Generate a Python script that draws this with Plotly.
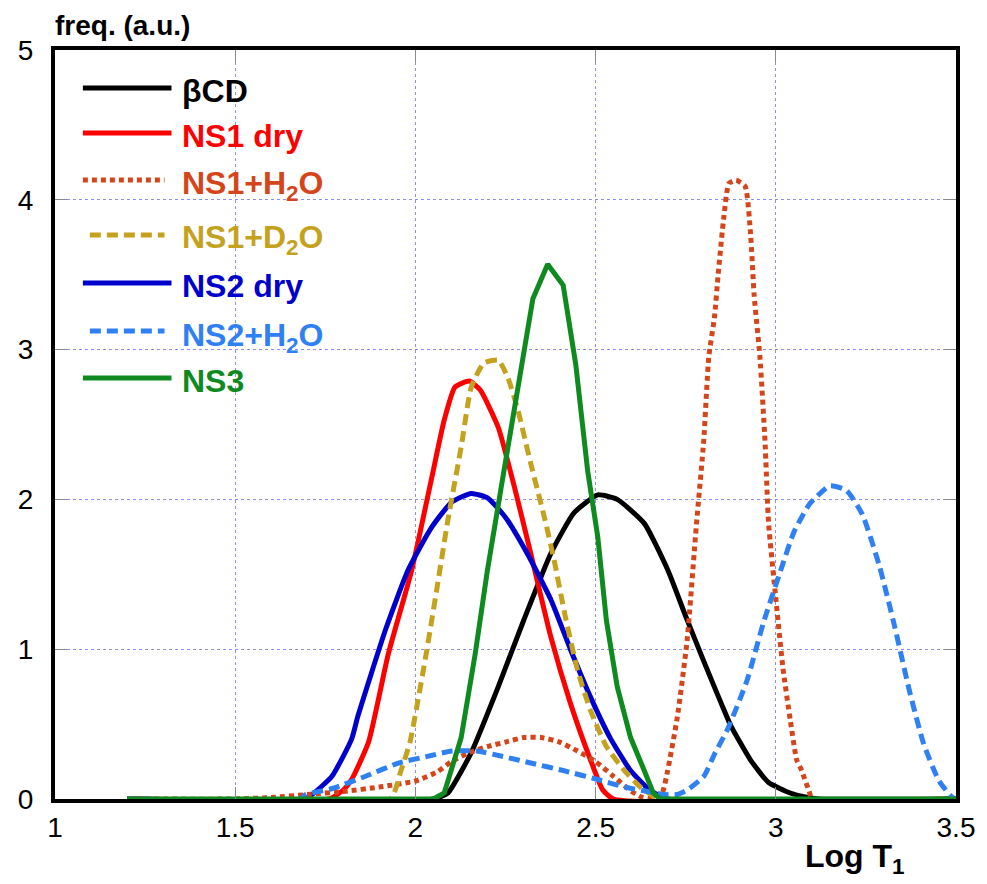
import plotly.graph_objects as go

# ---------------- data ----------------
bcd_x = [1.2, 2.05, 2.09, 2.155, 2.23, 2.30, 2.376, 2.44, 2.506, 2.56, 2.635, 2.70, 2.75, 2.80, 2.85, 2.875, 2.93, 2.98, 3.04, 3.09, 3.12, 3.5]
bcd_y = [0, 0, 0.04, 0.31, 0.75, 1.19, 1.64, 1.91, 2.03, 2.00, 1.84, 1.53, 1.22, 0.92, 0.63, 0.49, 0.26, 0.11, 0.04, 0.01, 0, 0]

ns1dry_x = [1.2, 1.76, 1.80, 1.823, 1.87, 1.925, 1.99, 2.044, 2.08, 2.11, 2.15, 2.18, 2.23, 2.275, 2.32, 2.376, 2.43, 2.486, 2.52, 2.55, 3.5]
ns1dry_y = [0, 0, 0.06, 0.13, 0.38, 0.97, 1.53, 2.13, 2.53, 2.75, 2.79, 2.73, 2.48, 2.08, 1.64, 1.08, 0.64, 0.26, 0.06, 0, 0]

ns1h2o_x = [1.2, 1.5, 1.6, 1.7, 1.8, 1.9, 2.0, 2.06, 2.1, 2.15, 2.2, 2.25, 2.3, 2.35, 2.4, 2.45, 2.5, 2.55, 2.6, 2.63, 2.665,
            2.685, 2.70, 2.727, 2.754, 2.78, 2.80, 2.814, 2.83, 2.84, 2.856, 2.87, 2.89, 2.915, 2.93, 2.94, 2.956, 2.97, 2.98,
            3.00, 3.02, 3.04, 3.058, 3.07, 3.094, 3.10, 3.5]
ns1h2o_y = [0, 0, 0.01, 0.03, 0.05, 0.08, 0.12, 0.18, 0.25, 0.31, 0.35, 0.38, 0.41, 0.41, 0.38, 0.32, 0.25, 0.15, 0.05, 0.01, 0,
            0.04, 0.19, 0.55, 1.06, 1.84, 2.39, 2.95, 3.22, 3.50, 3.89, 4.11, 4.13, 4.09, 3.77, 3.36, 2.95, 2.39, 1.84,
            1.34, 0.87, 0.53, 0.26, 0.20, 0.04, 0, 0]

ns1d2o_x = [1.2, 1.93, 1.96, 1.985, 2.03, 2.06, 2.09, 2.127, 2.155, 2.19, 2.23, 2.257, 2.285, 2.32, 2.36, 2.387, 2.414, 2.45,
            2.486, 2.53, 2.58, 2.624, 2.66, 2.68, 3.5]
ns1d2o_y = [0, 0, 0.19, 0.38, 0.97, 1.41, 1.86, 2.35, 2.75, 2.91, 2.93, 2.81, 2.59, 2.24, 1.86, 1.57, 1.24, 0.86,
            0.59, 0.35, 0.19, 0.08, 0.02, 0, 0]

ns2dry_x = [1.2, 1.69, 1.713, 1.768, 1.823, 1.84, 1.917, 1.98, 2.044, 2.10, 2.155, 2.20, 2.25, 2.31, 2.376, 2.43, 2.486, 2.54,
            2.597, 2.65, 2.70, 3.5]
ns2dry_y = [0, 0, 0.03, 0.15, 0.40, 0.55, 1.13, 1.53, 1.81, 1.98, 2.04, 2.01, 1.88, 1.64, 1.33, 1.00, 0.68, 0.41,
            0.19, 0.06, 0, 0]

ns2h2o_x = [1.2, 1.68, 1.696, 1.77, 1.86, 1.953, 2.044, 2.10, 2.17, 2.25, 2.32, 2.41, 2.506, 2.58, 2.644, 2.69, 2.727, 2.754,
            2.80, 2.83, 2.867, 2.92, 2.966, 3.01, 3.05, 3.094, 3.15, 3.196, 3.24, 3.287, 3.33, 3.37, 3.41, 3.453, 3.49, 3.5]
ns2h2o_y = [0, 0, 0.03, 0.07, 0.15, 0.24, 0.29, 0.32, 0.32, 0.28, 0.24, 0.19, 0.13, 0.08, 0.05, 0.03, 0.03, 0.06,
            0.15, 0.30, 0.47, 0.79, 1.18, 1.50, 1.78, 1.97, 2.09, 2.06, 1.90, 1.56, 1.15, 0.73, 0.37, 0.12, 0.01, 0]

ns3_x = [1.2, 2.05, 2.08, 2.127, 2.166, 2.20, 2.238, 2.276, 2.30, 2.326, 2.367, 2.41, 2.445, 2.478, 2.506, 2.53, 2.56,
         2.597, 2.635, 2.66, 2.68, 3.5]
ns3_y = [0, 0, 0.04, 0.41, 0.97, 1.53, 2.08, 2.64, 3.00, 3.34, 3.57, 3.43, 2.90, 2.19, 1.75, 1.19, 0.75,
         0.41, 0.19, 0.04, 0, 0]

x_ticks = [1, 1.5, 2, 2.5, 3, 3.5]
x_tick_labels = ["1", "1.5", "2", "2.5", "3", "3.5"]
y_ticks = [0, 1, 2, 3, 4, 5]
y_tick_labels = ["0", "1", "2", "3", "4", "5"]

# series: name, x, y, colour, dash, shape   (legend order)
series = [
    ("βCD", bcd_x, bcd_y, "#000000", "solid", "spline"),
    ("NS1 dry", ns1dry_x, ns1dry_y, "#FF0000", "solid", "spline"),
    ("NS1+H<sub>2</sub>O", ns1h2o_x, ns1h2o_y, "#D4461A", "5px,4px", "spline"),
    ("NS1+D<sub>2</sub>O", ns1d2o_x, ns1d2o_y, "#C4A21E", "11px,6px", "spline"),
    ("NS2 dry", ns2dry_x, ns2dry_y, "#0000CC", "solid", "spline"),
    ("NS2+H<sub>2</sub>O", ns2h2o_x, ns2h2o_y, "#2F80F2", "11px,6px", "spline"),
    ("NS3", ns3_x, ns3_y, "#0E8A1E", "solid", "linear"),
]
draw_order = [0, 1, 4, 2, 3, 5, 6]

# ---------------- layout geometry ----------------
W, H = 987, 884
L, R, T, B = 55, 27, 50, 85
PW, PH = W - L - R, H - T - B


def px_x(px):
    return (px - L) / PW


def px_y(py):
    return (H - B - py) / PH


FONT = "Liberation Sans, Arial, sans-serif"

fig = go.Figure()
for i in draw_order:
    name, xs, ys, col, dash, shp = series[i]
    line = dict(color=col, width=5, dash=dash, shape=shp)
    if shp == "spline":
        line["smoothing"] = 0.5
    fig.add_trace(go.Scatter(x=xs, y=ys, mode="lines", name=name, showlegend=False, line=line))

# manual legend (long line samples as in the reference)
leg_line_y = [88, 133, 180, 235, 283, 331, 378]
leg_line_x0 = [83, 83, 83, 90, 83, 90, 83]
leg_line_x1 = [172, 172, 165, 165, 172, 165, 172]
leg_text_y = [91, 136, 185, 239, 286, 338, 381]
shapes = []
annotations = []
for k, (name, xs, ys, col, dash, shp) in enumerate(series):
    shapes.append(dict(type="line", xref="paper", yref="paper",
                       x0=px_x(leg_line_x0[k]), x1=px_x(leg_line_x1[k]),
                       y0=px_y(leg_line_y[k]), y1=px_y(leg_line_y[k]),
                       line=dict(color=col, width=5, dash=dash)))
    annotations.append(dict(xref="paper", yref="paper", x=px_x(181), y=px_y(leg_text_y[k]),
                            xanchor="left", yanchor="middle", showarrow=False,
                            text="<b>" + name + "</b>",
                            font=dict(family=FONT, size=32, color=col)))

annotations.append(dict(xref="paper", yref="paper", x=px_x(53), y=px_y(25),
                        xanchor="left", yanchor="middle", showarrow=False,
                        text="<b>freq. (a.u.)</b>", font=dict(family=FONT, size=28, color="black")))
annotations.append(dict(xref="paper", yref="paper", x=px_x(806), y=px_y(836),
                        xanchor="left", yanchor="top", showarrow=False,
                        text="<b>Log T<sub>1</sub></b>", font=dict(family=FONT, size=32, color="black")))

fig.update_layout(
    width=W, height=H,
    margin=dict(l=L, r=R, t=T, b=B, pad=0),
    paper_bgcolor="white", plot_bgcolor="white",
    showlegend=False,
    shapes=shapes, annotations=annotations,
    xaxis=dict(range=[1, 3.5], tickmode="array", tickvals=x_ticks, ticktext=x_tick_labels,
               showgrid=True, gridcolor="#8C8CF2", gridwidth=1, griddash="dot",
               zeroline=False, showline=True, linecolor="black", linewidth=4, mirror="ticks",
               ticks="inside", ticklen=12, tickcolor="#8A8A8A", tickwidth=1,
               ticklabelstandoff=0,
               tickfont=dict(family=FONT, size=28, color="black")),
    yaxis=dict(range=[0, 5], tickmode="array", tickvals=y_ticks, ticktext=y_tick_labels,
               showgrid=True, gridcolor="#8C8CF2", gridwidth=1, griddash="dot",
               zeroline=False, showline=True, linecolor="black", linewidth=4, mirror="ticks",
               ticks="inside", ticklen=12, tickcolor="#8A8A8A", tickwidth=1,
               ticklabelstandoff=12,
               tickfont=dict(family=FONT, size=28, color="black")),
)

fig.write_html("out.html", config={"displayModeBar": False},
               post_script="document.body.style.margin='0';document.body.style.overflow='hidden';")
